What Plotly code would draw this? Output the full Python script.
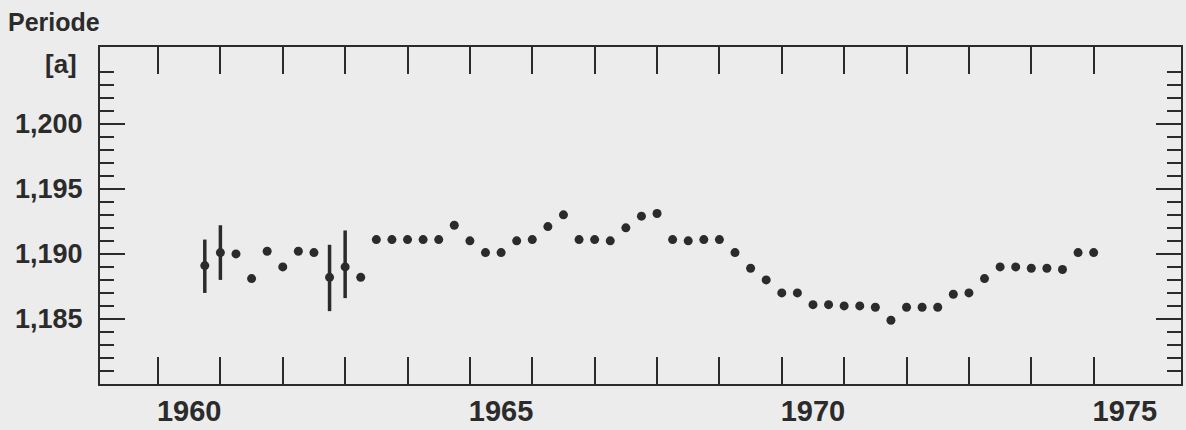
import plotly.graph_objects as go

# ---- data ----
years = [1960.75, 1961.00, 1961.25, 1961.50, 1961.75, 1962.00, 1962.25, 1962.50,
         1962.75, 1963.00, 1963.25, 1963.50, 1963.75, 1964.00, 1964.25, 1964.50,
         1964.75, 1965.00, 1965.25, 1965.50, 1965.75, 1966.00, 1966.25, 1966.50,
         1966.75, 1967.00, 1967.25, 1967.50, 1967.75, 1968.00, 1968.25, 1968.50,
         1968.75, 1969.00, 1969.25, 1969.50, 1969.75, 1970.00, 1970.25, 1970.50,
         1970.75, 1971.00, 1971.25, 1971.50, 1971.75, 1972.00, 1972.25, 1972.50,
         1972.75, 1973.00, 1973.25, 1973.50, 1973.75, 1974.00, 1974.25, 1974.50,
         1974.75, 1975.00]

period = [1.1891, 1.1901, 1.1900, 1.1881, 1.1902, 1.1890, 1.1902, 1.1901,
          1.1882, 1.1890, 1.1882, 1.1911, 1.1911, 1.1911, 1.1911, 1.1911,
          1.1922, 1.1910, 1.1901, 1.1901, 1.1910, 1.1911, 1.1921, 1.1930,
          1.1911, 1.1911, 1.1910, 1.1920, 1.1929, 1.1931, 1.1911, 1.1910,
          1.1911, 1.1911, 1.1901, 1.1889, 1.1880, 1.1870, 1.1870, 1.1861,
          1.1861, 1.1860, 1.1860, 1.1859, 1.1849, 1.1859, 1.1859, 1.1859,
          1.1869, 1.1870, 1.1881, 1.1890, 1.1890, 1.1889, 1.1889, 1.1888,
          1.1901, 1.1901]

# error bars (only a few early determinations carry them)
err_plus = [0.0020, 0.0021, None, None, None, None, None, None,
            0.0025, 0.0028] + [None] * 48
err_minus = [0.0021, 0.0021, None, None, None, None, None, None,
             0.0026, 0.0024] + [None] * 48

year_ticks = list(range(1960, 1976))
year_label_pos = [1960.5, 1965.5, 1970.5, 1975.5]
year_labels = ["1960", "1965", "1970", "1975"]

y_major_vals = [1.185, 1.190, 1.195, 1.200]
y_major_labels = ["1,185", "1,190", "1,195", "1,200"]
y_minor_vals = [1.181, 1.182, 1.183, 1.184, 1.186, 1.187, 1.188, 1.189,
                1.191, 1.192, 1.193, 1.194, 1.196, 1.197, 1.198, 1.199,
                1.201, 1.202, 1.203, 1.204]

# ---- styling ----
INK = "#2b2b2b"
BG = "#ececec"
W, H = 1186, 430
L, R, T, B = 100, 3, 47, 36
FONT = "Liberation Sans"

plain_idx = [i for i in range(len(years)) if err_plus[i] is None]
err_idx = [i for i in range(len(years)) if err_plus[i] is not None]

fig = go.Figure()
fig.add_trace(go.Scatter(
    x=[years[i] for i in plain_idx],
    y=[period[i] for i in plain_idx],
    mode="markers",
    marker=dict(size=9, color=INK),
    showlegend=False,
    hoverinfo="x+y",
))
fig.add_trace(go.Scatter(
    x=[years[i] for i in err_idx],
    y=[period[i] for i in err_idx],
    mode="markers",
    marker=dict(size=9, color=INK),
    error_y=dict(type="data", symmetric=False,
                 array=[err_plus[i] for i in err_idx],
                 arrayminus=[err_minus[i] for i in err_idx],
                 thickness=3.5, width=0, color=INK),
    showlegend=False,
    hoverinfo="x+y",
))

fig.update_layout(
    width=W, height=H,
    margin=dict(l=L, r=R, t=T, b=B, pad=0),
    paper_bgcolor=BG, plot_bgcolor=BG,
    font=dict(family=FONT, color=INK, size=26, weight="bold"),
    showlegend=False,
)

fig.update_xaxes(
    range=[1959.07, 1976.40],
    showgrid=False, zeroline=False,
    showline=True, linecolor=INK, linewidth=2, mirror="ticks",
    tickmode="array", tickvals=year_label_pos, ticktext=year_labels,
    ticks="", ticklabelstandoff=0,
    tickfont=dict(family=FONT, size=29, color=INK, weight="bold"),
    minor=dict(tickmode="array", tickvals=year_ticks, ticks="inside",
               ticklen=27, tickwidth=2, tickcolor=INK, showgrid=False),
)

fig.update_yaxes(
    range=[1.1800, 1.2059],
    showgrid=False, zeroline=False,
    showline=True, linecolor=INK, linewidth=2, mirror="ticks",
    tickmode="array", tickvals=y_major_vals, ticktext=y_major_labels,
    ticks="inside", ticklen=25, tickwidth=2, tickcolor=INK,
    ticklabelstandoff=10,
    tickfont=dict(family=FONT, size=27, color=INK, weight="bold"),
    minor=dict(tickmode="array", tickvals=y_minor_vals, ticks="inside",
               ticklen=14, tickwidth=2, tickcolor=INK, showgrid=False),
)

plot_h = H - T - B
plot_w = W - L - R


def px_to_paper(px, py):
    return (px - L) / plot_w, (H - B - py) / plot_h


ax_, ay_ = px_to_paper(6, 21)
fig.add_annotation(text="Periode", x=ax_, y=ay_, xref="paper", yref="paper",
                   xanchor="left", yanchor="middle", showarrow=False,
                   font=dict(family=FONT, size=25, color=INK, weight="bold"))
ax_, ay_ = px_to_paper(79, 64)
fig.add_annotation(text="[a]", x=ax_, y=ay_, xref="paper", yref="paper",
                   xanchor="right", yanchor="middle", showarrow=False,
                   font=dict(family=FONT, size=26, color=INK, weight="bold"))

fig.write_html("out.html")
